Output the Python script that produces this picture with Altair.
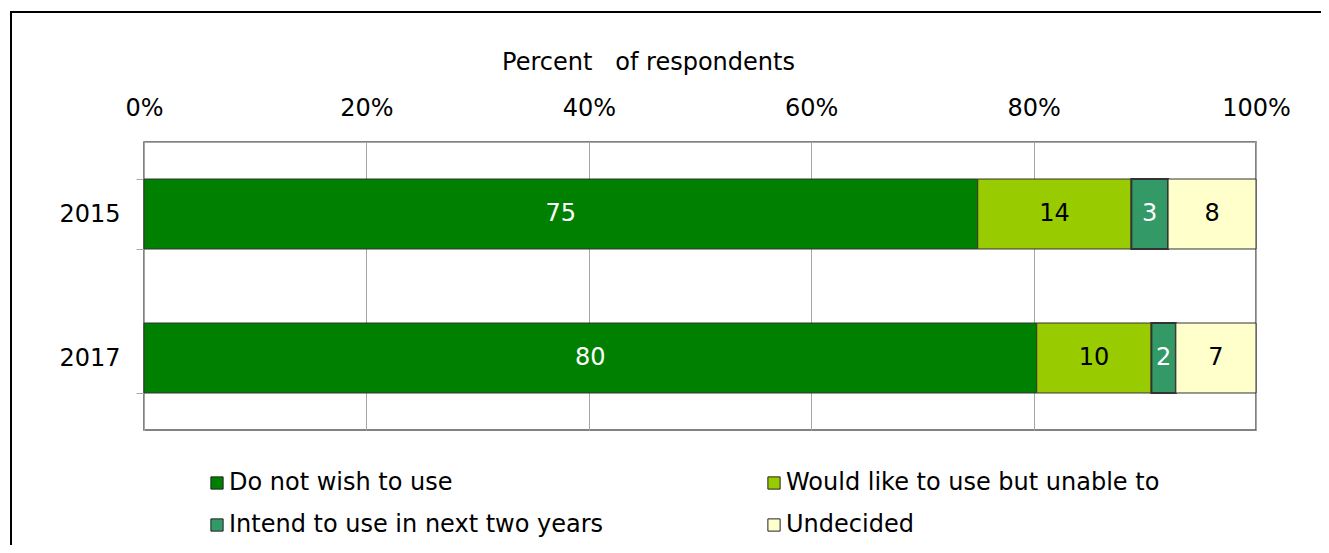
import altair as alt
import pandas as pd

years = ["2015", "2017"]
categories = ["Do not wish to use", "Would like to use but unable to",
              "Intend to use in next two years", "Undecided"]
values_2015 = [74.9, 13.8, 3.3, 7.9]
values_2017 = [80.2, 10.3, 2.2, 7.2]
labels_2015 = ["75", "14", "3", "8"]
labels_2017 = ["80", "10", "2", "7"]
colors = ["#008000", "#99CC00", "#339966", "#FFFFCC"]
text_colors = ["white", "black", "white", "black"]

rows = []
for yr, vals, labs in [("2015", values_2015, labels_2015), ("2017", values_2017, labels_2017)]:
    for i, (c, v, l) in enumerate(zip(categories, vals, labs)):
        rows.append({"year": yr, "category": c, "value": v, "label": l, "order": i,
                     "tcolor": text_colors[i], "thick": 2 if i == 2 else 1})
df = pd.DataFrame(rows)

FONT = "DejaVu Sans"
FS = 24

x_enc = alt.X("value:Q", stack="normalize",
              scale=alt.Scale(domain=[0, 1], nice=False),
              axis=alt.Axis(orient="top", format="%", values=[0, 0.2, 0.4, 0.6, 0.8, 1.0],
                            title="Percent\u00a0\u00a0 of respondents", titleFont=FONT, titleFontSize=FS,
                            titleFontWeight="normal", titleColor="black",
                            titleX=504, titleY=-68, titleAlign="center",
                            labelFont=FONT, labelFontSize=FS, labelColor="black",
                            labelPadding=22, labelFlush=False, ticks=False,
                            domainColor="#a6a6a6", grid=True, gridColor="#a6a6a6"))
y_enc = alt.Y("year:N", sort=years,
              scale=alt.Scale(paddingInner=0.514, paddingOuter=0.257),
              axis=alt.Axis(title=None, labelFont=FONT, labelFontSize=FS, labelColor="black",
                            labelPadding=16, tickBand="extent", tickSize=8, tickColor="#a6a6a6",
                            domainColor="#a6a6a6"))

bars = alt.Chart(df).mark_bar(stroke="#333333").encode(
    x=x_enc,
    y=y_enc,
    color=alt.Color("category:N", sort=categories,
                    scale=alt.Scale(domain=categories, range=colors),
                    legend=alt.Legend(title=None, orient="none", legendX=61, legendY=329,
                                      direction="horizontal", columns=2, columnPadding=158,
                                      rowPadding=18, symbolType="square", symbolSize=150,
                                      symbolStrokeColor="#222222", symbolStrokeWidth=1,
                                      labelFont=FONT, labelFontSize=FS, labelColor="black",
                                      labelOffset=0, labelLimit=600)),
    order=alt.Order("order:Q"),
    strokeWidth=alt.StrokeWidth("thick:Q", scale=None),
)

texts = alt.Chart(df).mark_text(font=FONT, fontSize=FS, baseline="middle", align="center").encode(
    x=alt.X("value:Q", stack="normalize", bandPosition=0.5),
    y=alt.Y("year:N", sort=years),
    detail="category:N",
    order=alt.Order("order:Q"),
    text="label:N",
    color=alt.Color("tcolor:N", scale=None),
)

frame = alt.Chart(df).mark_rect(fill=None, stroke="black", strokeWidth=1.5).encode(
    x=alt.value(-133), x2=alt.value(1300), y=alt.value(-130), y2=alt.value(700)
)

chart = alt.layer(frame, bars, texts).resolve_scale(color="independent").properties(
    width=1112, height=288,
    padding={"left": 136, "top": 134, "right": 65, "bottom": 115},
    autosize=alt.AutoSizeParams(type="none"),
).configure_view(stroke="#595959", strokeWidth=1.5)

chart.save("out.html", embed_options={"renderer": "svg", "actions": False})
